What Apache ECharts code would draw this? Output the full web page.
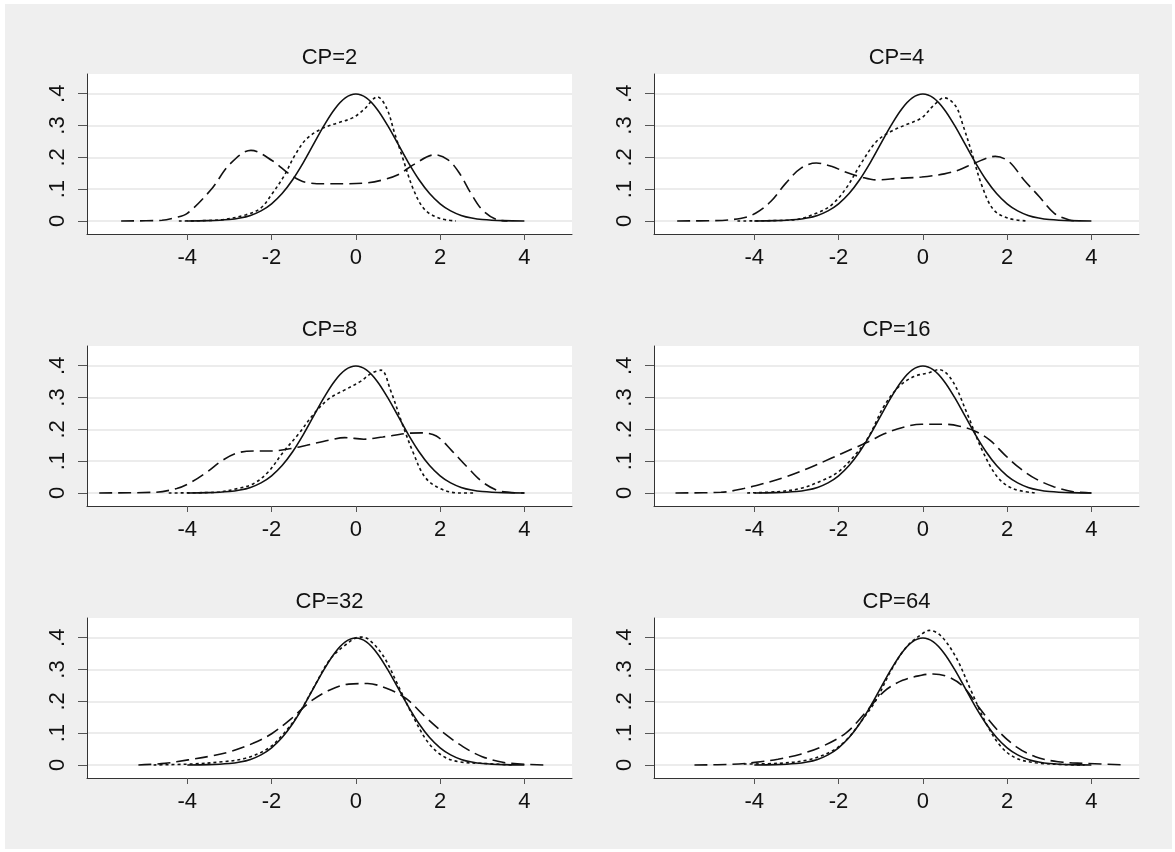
<!DOCTYPE html>
<html>
<head>
<meta charset="utf-8">
<script src="https://cdn.jsdelivr.net/npm/echarts@6/dist/echarts.min.js"></script>
<style>
  html, body { margin: 0; padding: 0; background: #fff; }
  #chart { position: absolute; left: 5px; top: 4px; width: 1167px; height: 845px; }
</style>
</head>
<body>
<div id="chart"></div>
<script>
// panel titles
var titles = ['CP=2', 'CP=4', 'CP=8', 'CP=16', 'CP=32', 'CP=64'];
var xTicks = [-4, -2, 0, 2, 4];
var yTicks = [0, 0.1, 0.2, 0.3, 0.4];

// solid curve (same in every panel)
var solid = [[-4, 0.0001], [-3.5, 0.0009], [-3, 0.0044], [-2.75, 0.0091], [-2.5, 0.0175], [-2.25, 0.0317],
  [-2, 0.054], [-1.75, 0.0863], [-1.5, 0.1295], [-1.25, 0.1826], [-1, 0.242], [-0.75, 0.3011],
  [-0.5, 0.3521], [-0.25, 0.3867], [0, 0.3989], [0.25, 0.3867], [0.5, 0.3521], [0.75, 0.3011],
  [1, 0.242], [1.25, 0.1826], [1.5, 0.1295], [1.75, 0.0863], [2, 0.054], [2.25, 0.0317],
  [2.5, 0.0175], [2.75, 0.0091], [3, 0.0044], [3.5, 0.0009], [4, 0.0001]];

// long-dash curves
var dash2 = [[-5.57, 0], [-4.6, 0.002], [-4.3, 0.01], [-4, 0.024], [-3.44, 0.098], [-2.98, 0.18], [-2.49, 0.222],
  [-1.99, 0.19], [-1.53, 0.143], [-1.17, 0.121], [-0.7, 0.117], [-0.26, 0.117], [0.28, 0.12], [0.64, 0.129],
  [1.0, 0.145], [1.37, 0.177], [1.87, 0.208], [2.19, 0.192], [2.46, 0.15], [2.73, 0.087], [3.0, 0.035],
  [3.37, 0.003], [3.6, 0]];
var dash4 = [[-5.83, 0], [-4.95, 0.001], [-4.33, 0.008], [-3.97, 0.024], [-3.61, 0.061], [-3.25, 0.119],
  [-2.89, 0.166], [-2.53, 0.182], [-2.17, 0.172], [-1.82, 0.153], [-1.46, 0.138], [-1.1, 0.129],
  [-0.57, 0.134], [-0.03, 0.138], [0.51, 0.148], [0.87, 0.161], [1.23, 0.182], [1.72, 0.203],
  [2.04, 0.187], [2.4, 0.129], [2.76, 0.077], [3.12, 0.024], [3.48, 0.003], [3.7, 0]];
var dash8 = [[-6.09, 0], [-4.8, 0.002], [-4.25, 0.014], [-3.89, 0.035], [-3.53, 0.066], [-3.16, 0.103],
  [-2.8, 0.126], [-2.43, 0.132], [-1.99, 0.132], [-1.53, 0.14], [-1.17, 0.15], [-0.63, 0.166],
  [-0.26, 0.174], [0.19, 0.169], [0.64, 0.176], [1.19, 0.187], [1.55, 0.189], [1.91, 0.179],
  [2.27, 0.134], [2.64, 0.082], [3.0, 0.035], [3.36, 0.008], [3.64, 0.002], [4, 0]];
var dash16 = [[-5.87, 0], [-4.79, 0.002], [-4.25, 0.014], [-3.8, 0.029], [-3.26, 0.05], [-2.73, 0.077],
  [-2.19, 0.108], [-1.65, 0.14], [-1.29, 0.161], [-0.93, 0.185], [-0.48, 0.206], [-0.03, 0.216],
  [0.51, 0.216], [0.87, 0.21], [1.23, 0.195], [1.59, 0.166], [1.95, 0.119], [2.31, 0.077],
  [2.67, 0.045], [3.12, 0.019], [3.57, 0.004], [4, 0]];
var dash32 = [[-5.16, 0], [-4.53, 0.005], [-3.98, 0.016], [-3.44, 0.028], [-2.98, 0.042], [-2.44, 0.068],
  [-1.99, 0.099], [-1.53, 0.146], [-1.08, 0.199], [-0.63, 0.235], [-0.17, 0.254], [0.28, 0.256],
  [0.74, 0.24], [1.19, 0.209], [1.64, 0.152], [2.1, 0.099], [2.55, 0.057], [3.0, 0.026],
  [3.55, 0.007], [4.45, 0]];
var dash64 = [[-5.42, 0], [-4.52, 0.002], [-3.98, 0.008], [-3.44, 0.018], [-2.9, 0.034], [-2.36, 0.06],
  [-1.82, 0.101], [-1.38, 0.162], [-0.93, 0.23], [-0.48, 0.266], [-0.03, 0.282], [0.24, 0.286],
  [0.6, 0.277], [0.96, 0.246], [1.32, 0.183], [1.77, 0.11], [2.22, 0.057], [2.67, 0.026],
  [3.21, 0.01], [3.84, 0.005], [4.83, 0]];

// short-dash (dotted) curves
var dot2 = [[-4.2, 0], [-3.26, 0.003], [-2.62, 0.019], [-2.26, 0.04], [-1.99, 0.085], [-1.71, 0.14],
  [-1.44, 0.208], [-1.17, 0.258], [-0.81, 0.29], [-0.44, 0.308], [-0.08, 0.324], [0.19, 0.35],
  [0.51, 0.39], [0.73, 0.355], [0.92, 0.276], [1.1, 0.203], [1.37, 0.098], [1.64, 0.035],
  [2.0, 0.008], [2.37, 0]];
var dot4 = [[-4.4, 0], [-3.09, 0.003], [-2.53, 0.024], [-2.17, 0.05], [-1.82, 0.103], [-1.46, 0.182],
  [-1.1, 0.25], [-0.75, 0.282], [-0.39, 0.303], [-0.03, 0.324], [0.24, 0.361], [0.51, 0.387],
  [0.78, 0.361], [0.96, 0.298], [1.14, 0.224], [1.41, 0.108], [1.68, 0.035], [2.04, 0.008], [2.48, 0]];
var dot8 = [[-4.44, 0], [-3.35, 0.002], [-2.8, 0.014], [-2.43, 0.029], [-2.08, 0.066], [-1.72, 0.129],
  [-1.35, 0.187], [-0.99, 0.25], [-0.63, 0.297], [-0.26, 0.324], [0.1, 0.35], [0.37, 0.376],
  [0.6, 0.386], [0.82, 0.324], [1.1, 0.218], [1.37, 0.124], [1.64, 0.05], [2.0, 0.014], [2.45, 0], [2.8, 0]];
var dot16 = [[-4.17, 0], [-3.45, 0.004], [-2.91, 0.014], [-2.37, 0.04], [-2.01, 0.066], [-1.65, 0.113],
  [-1.29, 0.176], [-0.93, 0.271], [-0.57, 0.334], [-0.21, 0.366], [0.15, 0.378], [0.38, 0.388],
  [0.69, 0.355], [1.05, 0.25], [1.41, 0.134], [1.77, 0.05], [2.13, 0.014], [2.67, 0]];
var dot32 = [[-4.8, 0], [-3.89, 0.003], [-3.17, 0.01], [-2.62, 0.021], [-2.08, 0.052], [-1.71, 0.099],
  [-1.35, 0.162], [-0.99, 0.246], [-0.63, 0.329], [-0.26, 0.376], [0.1, 0.402], [0.28, 0.397],
  [0.64, 0.345], [1.0, 0.251], [1.36, 0.152], [1.73, 0.068], [2.09, 0.026], [2.45, 0.01],
  [3.0, 0.005], [3.73, 0]];
var dot64 = [[-4.25, 0.003], [-3.44, 0.005], [-2.72, 0.016], [-2.18, 0.042], [-1.82, 0.078], [-1.47, 0.136],
  [-1.11, 0.204], [-0.75, 0.298], [-0.39, 0.371], [-0.03, 0.411], [0.15, 0.423], [0.42, 0.407],
  [0.78, 0.34], [1.14, 0.235], [1.5, 0.131], [1.86, 0.057], [2.22, 0.021], [2.67, 0.007],
  [3.39, 0.001], [3.84, 0]];

var dashes = [dash2, dash4, dash8, dash16, dash32, dash64];
var dots = [dot2, dot4, dot8, dot16, dot32, dot64];

var font = '"Liberation Sans", Arial, sans-serif';
var lefts = [82, 649];
var tops = [70, 342, 614];
var W = 485, H = 160;

var chart = echarts.init(document.getElementById('chart'));
var option = {
  backgroundColor: '#efefef',
  animation: false,
  title: [], grid: [], xAxis: [], yAxis: [], series: []
};

titles.forEach(function (t, i) {
  var l = lefts[i % 2], tp = tops[Math.floor(i / 2)];
  option.title.push({
    text: t, left: l + W / 2, top: tp - 27, textAlign: 'center', padding: 0,
    textStyle: { fontFamily: font, fontSize: 22, fontWeight: 'normal', color: '#111' }
  });
  option.grid.push({
    left: l, top: tp, width: W, height: H, show: true,
    backgroundColor: '#fff', borderWidth: 0
  });
  option.xAxis.push({
    type: 'value', gridIndex: i, min: -6.38, max: 5.13,
    axisLine: { show: true, onZero: false, lineStyle: { color: '#333', width: 1 } },
    axisTick: { show: true, length: 6, customValues: xTicks, lineStyle: { color: '#555' } },
    axisLabel: { customValues: xTicks, margin: 13, fontFamily: font, fontSize: 22, color: '#111' },
    splitLine: { show: false }
  });
  option.yAxis.push({
    type: 'value', gridIndex: i, min: -0.041, max: 0.462,
    axisLine: { show: true, onZero: false, lineStyle: { color: '#333', width: 1 } },
    axisTick: { show: true, length: 9, customValues: yTicks, lineStyle: { color: '#555' } },
    axisLabel: {
      customValues: yTicks, rotate: 90, margin: 18, fontFamily: font, fontSize: 22, color: '#111',
      formatter: function (v) { return v === 0 ? '0' : String(Math.round(v * 10) / 10).replace(/^0/, ''); }
    },
    splitLine: { show: true, lineStyle: { color: '#e6e6e6', width: 1.5 } }
  });
  var base = { type: 'line', xAxisIndex: i, yAxisIndex: i, symbol: 'none', smooth: 0.35, z: 3 };
  option.series.push(Object.assign({}, base, { data: solid, lineStyle: { color: '#111', width: 1.6, type: 'solid' } }));
  option.series.push(Object.assign({}, base, { data: dashes[i], lineStyle: { color: '#111', width: 1.6, type: [13, 6] } }));
  option.series.push(Object.assign({}, base, { data: dots[i], lineStyle: { color: '#111', width: 1.6, type: [3, 3] } }));
});

chart.setOption(option);
window.onresize = function () { chart.resize(); };
</script>
</body>
</html>
